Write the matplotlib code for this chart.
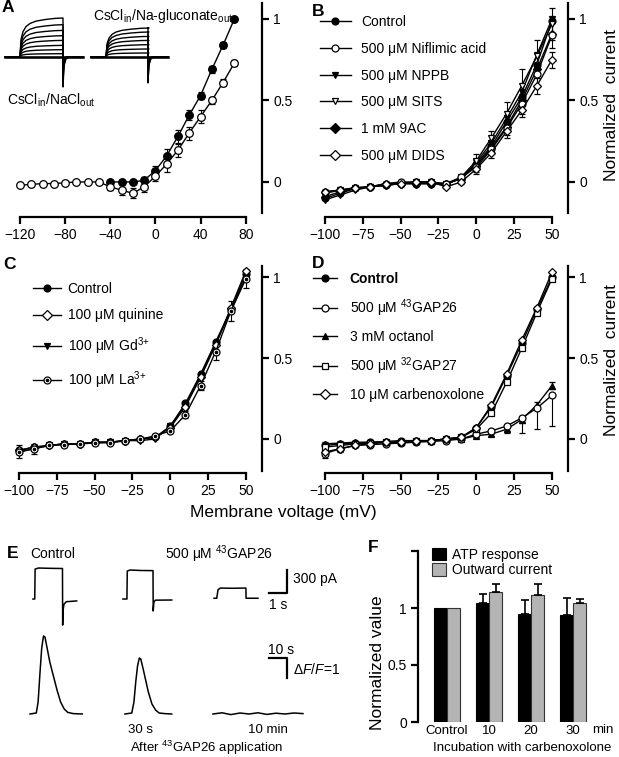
import numpy as np
import matplotlib
matplotlib.use('Agg')
import matplotlib.pyplot as plt
from matplotlib.lines import Line2D

plt.rcParams['font.family'] = ['Liberation Sans', 'DejaVu Sans']
plt.rcParams['mathtext.fontset'] = 'custom'
plt.rcParams['mathtext.rm'] = 'Liberation Sans'
plt.rcParams['mathtext.it'] = 'Liberation Sans:italic'

# ---------------- data ----------------
# panel A
vA_na = [-40, -30, -20, -10, 0, 10, 20, 30, 40, 50, 60, 70]
iA_na = [0.0, 0.0, 0.0, 0.01, 0.07, 0.16, 0.28, 0.41, 0.53, 0.69, 0.84, 1.0]
eA_na = [0.01, 0.01, 0.01, 0.02, 0.03, 0.04, 0.04, 0.03, 0.02, 0.02, 0.02, 0.01]
vA_cl = list(range(-120, 80, 10))
iA_cl = [-0.02, -0.015, -0.01, -0.01, -0.005, 0.0, 0.0, 0.0, -0.03, -0.05, -0.07, -0.03,
         0.035, 0.11, 0.195, 0.30, 0.40, 0.50, 0.61, 0.73]
eA_cl = [0.01] * 8 + [0.02, 0.03, 0.03, 0.03, 0.03, 0.05, 0.04, 0.04, 0.04, 0.02, 0.02, 0.02]

volts = list(range(-100, 60, 10))

# panel B
iB_ctrl = [-0.10, -0.07, -0.04, -0.03, -0.02, -0.01, -0.01, -0.01, -0.01, 0.02, 0.11, 0.22, 0.37, 0.52, 0.72, 0.99]
iB_nfa = [-0.06, -0.05, -0.035, -0.03, -0.01, 0.0, 0.0, 0.0, -0.01, 0.03, 0.09, 0.20, 0.33, 0.48, 0.66, 0.90]
iB_nppb = [-0.11, -0.08, -0.05, -0.03, -0.02, -0.01, -0.01, -0.01, -0.01, 0.02, 0.12, 0.24, 0.39, 0.55, 0.78, 1.0]
iB_sits = [-0.07, -0.05, -0.04, -0.03, -0.02, -0.01, 0.0, 0.0, -0.02, 0.03, 0.13, 0.27, 0.42, 0.59, 0.77, 0.97]
iB_9ac = [-0.09, -0.06, -0.04, -0.03, -0.02, -0.01, -0.01, -0.01, -0.01, 0.02, 0.10, 0.21, 0.34, 0.50, 0.69, 0.91]
iB_dids = [-0.06, -0.05, -0.035, -0.03, -0.01, -0.01, 0.0, 0.0, -0.03, 0.0, 0.08, 0.18, 0.31, 0.44, 0.59, 0.75]
eB_sits = [0.01] * 10 + [0.04, 0.04, 0.07, 0.10, 0.10, 0.10]
eB_nfa = [0.01] * 10 + [0.03, 0.03, 0.04, 0.06, 0.07, 0.08]
eB_dids = [0.01] * 10 + [0.03, 0.03, 0.04, 0.04, 0.05, 0.05]

# panel C
iC_ctrl = [-0.07, -0.05, -0.04, -0.03, -0.03, -0.02, -0.02, -0.01, 0.0, 0.01, 0.08, 0.22, 0.40, 0.60, 0.80, 1.02]
iC_quin = [-0.07, -0.05, -0.04, -0.03, -0.03, -0.02, -0.02, -0.01, 0.0, 0.01, 0.07, 0.20, 0.38, 0.58, 0.81, 1.04]
iC_gd = [-0.08, -0.06, -0.04, -0.03, -0.03, -0.02, -0.02, -0.01, -0.01, 0.0, 0.08, 0.21, 0.39, 0.59, 0.79, 1.0]
iC_la = [-0.08, -0.06, -0.04, -0.035, -0.03, -0.025, -0.023, -0.012, -0.002, 0.02, 0.05, 0.15, 0.33, 0.54, 0.79, 0.99]
eC_la = [0.04, 0.03, 0.01, 0.01, 0.01, 0.01, 0.01, 0.01, 0.01, 0.01, 0.01, 0.02, 0.03, 0.05, 0.06, 0.06]

# panel D
iD_ctrl = [-0.04, -0.03, -0.025, -0.02, -0.02, -0.015, -0.01, -0.01, 0.0, 0.01, 0.07, 0.20, 0.39, 0.59, 0.80, 1.0]
iD_gap26 = [-0.09, -0.06, -0.04, -0.035, -0.03, -0.025, -0.02, -0.015, -0.01, 0.0, 0.03, 0.05, 0.08, 0.13, 0.19, 0.27]
eD_gap26 = [0.03, 0.02, 0.01, 0.01, 0.01, 0.01, 0.01, 0.01, 0.01, 0.01, 0.01, 0.02, 0.03, 0.09, 0.13, 0.19]
iD_oct = [-0.03, -0.025, -0.02, -0.02, -0.015, -0.01, -0.01, -0.01, 0.0, 0.0, 0.02, 0.03, 0.06, 0.12, 0.21, 0.33]
eD_oct = [0.01] * 11 + [0.01, 0.02, 0.02, 0.02, 0.02]
iD_gap27 = [-0.05, -0.04, -0.03, -0.025, -0.02, -0.02, -0.015, -0.01, 0.0, 0.01, 0.06, 0.16, 0.35, 0.56, 0.78, 0.99]
iD_cbx = [-0.08, -0.06, -0.04, -0.03, -0.02, -0.02, -0.015, -0.01, 0.0, 0.01, 0.07, 0.21, 0.40, 0.61, 0.81, 1.03]

# panel F
f_groups = ['Control', '10', '20', '30']
f_atp = [1.0, 1.04, 0.95, 0.94]
f_atp_err = [0.0, 0.08, 0.12, 0.15]
f_out = [1.0, 1.14, 1.11, 1.04]
f_out_err = [0.0, 0.07, 0.10, 0.04]

# inset traces of panel A (step amplitudes, rise shape)
famA1_amp = [39, 32.3, 26.6, 21.3, 16.6, 11.6, 7.3, 3.3, 0]
famA2_amp = [29, 25, 20.6, 16.6, 12.3, 8, 4, 0]
rise_t = [0, 1, 3, 6, 10, 16, 25, 35, 43]
rise_f = [0, 0.45, 0.65, 0.78, 0.86, 0.92, 0.96, 0.99, 1.0]

# panel E current traces (s, pA)
cur_ctrl_t = [0, 0.1, 0.12, 0.3, 1.0, 1.64, 1.65, 1.67, 1.72, 1.85, 2.43]
cur_ctrl_i = [0, 0, 390, 404, 400, 398, -340, -150, -70, -35, -25]
cur_30s_t = [0, 0.22, 0.24, 0.4, 1.0, 1.67, 1.68, 1.72, 1.8, 2.71]
cur_30s_i = [0, 0, 365, 378, 372, 370, -156, -40, -15, -13]
cur_10m_t = [0, 0.15, 0.22, 0.35, 1.0, 1.77, 1.78, 2.44]
cur_10m_i = [10, 10, 120, 143, 140, 143, 10, 10]
# panel E fluorescence traces (s, dF/F)
ca_ctrl_t = [0, 3.5, 4.5, 5.5, 6.5, 7.5, 8.3, 9.5, 11, 13, 15, 17, 19, 21, 24, 29]
ca_ctrl_v = [0, 0.05, 0.6, 2.0, 3.3, 3.9, 3.85, 3.3, 2.6, 1.9, 1.2, 0.6, 0.25, 0.08, 0.02, 0]
ca_30s_t = [0, 3.8, 5, 6, 7, 8, 8.8, 10, 11.5, 13, 15, 17, 19, 22, 26]
ca_30s_v = [0, 0.05, 0.6, 1.6, 2.4, 2.8, 2.75, 2.3, 1.7, 1.1, 0.5, 0.2, 0.05, 0.02, 0]
ca_10m_t = [0, 5, 10, 15, 20, 25, 30, 35, 40, 45, 50]
ca_10m_v = [0, 0.06, -0.03, 0.05, 0.0, 0.06, -0.02, 0.04, 0.0, 0.05, 0.02]

# ---------------- figure ----------------
W, H = 619, 757
fig = plt.figure(figsize=(W / 100, H / 100), dpi=100)


def add_px(l, t, r, b):
    return fig.add_axes([l / W, 1 - b / H, (r - l) / W, (b - t) / H])


def fx(x):
    return x / W


def fy(y):
    return 1 - y / H


def iv_axes(l, t, r, b, xlim, ylim, xticks, ybounds):
    ax = add_px(l, t, r, b)
    ax.set_xlim(xlim)
    ax.set_ylim(ylim)
    ax.spines['left'].set_visible(False)
    ax.spines['top'].set_visible(False)
    ax.spines['right'].set_bounds(*ybounds)
    ax.spines['bottom'].set_bounds(xticks[0], xticks[-1])
    ax.spines['right'].set_linewidth(1.6)
    ax.spines['bottom'].set_linewidth(1.6)
    ax.yaxis.tick_right()
    ax.set_xticks(xticks)
    ax.set_yticks([0, 0.5, 1])
    ax.set_yticklabels(['0', '0.5', '1'])
    ax.tick_params(direction='out', length=5, width=1.6, labelsize=10, pad=3)
    ax.patch.set_visible(False)
    return ax


def series(ax, x, y, marker, fc, err=None, ms=5, z=3):
    ax.errorbar(x, y, yerr=err, fmt='-', color='k', lw=1, marker=marker, mfc=fc, mec='k',
                mew=0.9, ms=ms, capsize=2.2, elinewidth=0.8, capthick=0.8, clip_on=False, zorder=z)


def dotted(ax, x, y, err=None, ms=5, z=3):
    series(ax, x, y, 'o', 'white', err, ms, z)
    ax.plot(x, y, 'o', color='k', ms=1.6, clip_on=False, zorder=z + 0.5)


def handle(marker, fc):
    return Line2D([], [], color='k', lw=1, marker=marker, mfc=fc, mec='k', mew=0.9, ms=5)


# ---- A ----
axA = iv_axes(20, 3, 262, 217, (-120, 94.5), (-0.215, 1.098), [-120, -80, -40, 0, 40, 80], (-0.19, 1.1))
series(axA, vA_na, iA_na, 'o', 'k', eA_na, ms=5.5)
series(axA, vA_cl, iA_cl, 'o', 'white', eA_cl, ms=5.5, z=4)
fig.text(fx(93), fy(16), r'CsCl$_{\mathregular{in}}$/Na-gluconate$_{\mathregular{out}}$', fontsize=10, va='center')
fig.text(fx(7), fy(100), r'CsCl$_{\mathregular{in}}$/NaCl$_{\mathregular{out}}$', fontsize=10, va='center')

# A inset current families
axI = add_px(0, 12, 175, 92)
axI.set_xlim(0, 175)
axI.set_ylim(-35, 45)
axI.axis('off')
for amps, b0, on, off, b1, spike in [(famA1_amp, 5, 20, 63, 83, 30), (famA2_amp, 91, 106, 148, 168, 26)]:
    amax = max(amps)
    for a in amps:
        xs = [b0, on] + [on + rt for rt in rise_t] + [off, off, off + 1, off + 3, off + 6, b1]
        s = spike * a / amax
        ys = [0, 0] + [a * rf for rf in rise_f] + [a, -s, -0.3 * s, -0.05 * s, 0, 0]
        axI.plot(xs, ys, color='k', lw=1)
    axI.plot([b0, b1], [0, 0], color='k', lw=1.8)

# ---- B ----
axB = iv_axes(325, 3, 568, 217, (-100, 60.6), (-0.215, 1.098), [-100, -75, -50, -25, 0, 25, 50], (-0.19, 1.1))
series(axB, volts, iB_ctrl, 'o', 'k')
series(axB, volts, iB_nppb, 'v', 'k')
series(axB, volts, iB_9ac, 'D', 'k', ms=4.5)
series(axB, volts, iB_sits, 'v', 'white', eB_sits)
series(axB, volts, iB_nfa, 'o', 'white', eB_nfa)
series(axB, volts, iB_dids, 'D', 'white', eB_dids, ms=4.5)
hB = [handle('o', 'k'), handle('o', 'white'), handle('v', 'k'), handle('v', 'white'), handle('D', 'k'), handle('D', 'white')]
lB = ['Control', '500 μM Niflimic acid', '500 μM NPPB', '500 μM SITS', '1 mM 9AC', '500 μM DIDS']
axB.legend(hB, lB, loc='upper left', bbox_to_anchor=(fx(320), fy(15)), bbox_transform=fig.transFigure,
           frameon=False, fontsize=10, borderpad=0, borderaxespad=0, handlelength=2.2,
           handletextpad=0.75, labelspacing=0.92)
fig.text(fx(612), fy(105), 'Normalized  current', fontsize=12.5, rotation=90, ha='center', va='center')

# ---- C ----
axC = iv_axes(19, 262, 262, 473, (-100, 60.6), (-0.21, 1.093), [-100, -75, -50, -25, 0, 25, 50], (-0.2, 1.07))
series(axC, volts, iC_ctrl, 'o', 'k')
series(axC, volts, iC_gd, 'v', 'k')
series(axC, volts, iC_quin, 'D', 'white', ms=4.5)
dotted(axC, volts, iC_la, eC_la)
hC = [handle('o', 'k'), handle('D', 'white'), handle('v', 'k'),
      (handle('o', 'white'), Line2D([], [], ls='none', marker='o', color='k', ms=1.6))]
lC = ['Control', '100 μM quinine', r'100 μM Gd$^{\mathregular{3{+}}}$', r'100 μM La$^{\mathregular{3{+}}}$']
axC.legend(hC, lC, loc='upper left', bbox_to_anchor=(fx(33), fy(282)), bbox_transform=fig.transFigure,
           frameon=False, fontsize=10, borderpad=0, borderaxespad=0, handlelength=2.0,
           handletextpad=0.5, labelspacing=0.9)

# ---- D ----
axD = iv_axes(325, 262, 568, 473, (-100, 60.6), (-0.21, 1.093), [-100, -75, -50, -25, 0, 25, 50], (-0.2, 1.07))
series(axD, volts, iD_oct, '^', 'k', eD_oct)
series(axD, volts, iD_gap26, 'o', 'white', [eD_gap26, [0] * len(eD_gap26)])
series(axD, volts, iD_ctrl, 'o', 'k')
series(axD, volts, iD_gap27, 's', 'white', ms=4.5)
series(axD, volts, iD_cbx, 'D', 'white', ms=4.5)
hD = [handle('o', 'k'), handle('o', 'white'), handle('^', 'k'), handle('s', 'white'), handle('D', 'white')]
lD = ['Control', r'500 μM $^{\mathregular{43}}$GAP26', '3 mM octanol', r'500 μM $^{\mathregular{32}}$GAP27',
      '10 μM carbenoxolone']
legD = axD.legend(hD, lD, loc='upper left', bbox_to_anchor=(fx(313), fy(272)), bbox_transform=fig.transFigure,
                  frameon=False, fontsize=10, borderpad=0, borderaxespad=0, handlelength=1.75,
                  handletextpad=0.9, labelspacing=0.8)
legD.get_texts()[0].set_fontweight('bold')
fig.text(fx(612), fy(360), 'Normalized  current', fontsize=12.5, rotation=90, ha='center', va='center')
fig.text(fx(283), fy(512), 'Membrane voltage (mV)', fontsize=12.5, ha='center', va='center')

# ---- E ----
axE1 = add_px(20, 560, 310, 630)
axE1.set_xlim(0, 290 / 18)
axE1.set_ylim(-404, 508.7)
axE1.axis('off')
for t0, ts, ys in [(0.72, cur_ctrl_t, cur_ctrl_i), (5.72, cur_30s_t, cur_30s_i), (10.78, cur_10m_t, cur_10m_i)]:
    axE1.plot([t0 + t for t in ts], ys, color='k', lw=1.1)
axE1.plot([13.83, 14.83, 14.83], [78, 78, 378], color='k', lw=1.6)

axE2 = add_px(20, 620, 310, 725)
axE2.set_xlim(0, 290 / 1.8)
axE2.set_ylim(-0.55, 4.7)
axE2.axis('off')
for t0, ts, ys in [(5.56, ca_ctrl_t, ca_ctrl_v), (58.3, ca_30s_t, ca_30s_v), (107.2, ca_10m_t, ca_10m_v)]:
    axE2.plot([t0 + t for t in ts], ys, color='k', lw=1.1)
axE2.plot([138.3, 148.3, 148.3], [2.8, 2.8, 1.8], color='k', lw=1.6)

fig.text(fx(30), fy(554), 'Control', fontsize=10, va='center')
fig.text(fx(165), fy(554), r'500 μM $^{\mathregular{43}}$GAP26', fontsize=10, va='center')
fig.text(fx(293), fy(579), '300 pA', fontsize=10, va='center')
fig.text(fx(269), fy(605), '1 s', fontsize=10, va='center')
fig.text(fx(268), fy(650), '10 s', fontsize=10, va='center')
fig.text(fx(293), fy(669), r'Δ$\mathit{F}$/$\mathit{F}$=1', fontsize=10, va='center')
fig.text(fx(141), fy(730), '30 s', fontsize=9.5, ha='center', va='center')
fig.text(fx(268), fy(730), '10 min', fontsize=9.5, ha='center', va='center')
fig.text(fx(207), fy(748), r'After $^{\mathregular{43}}$GAP26 application', fontsize=9.5, ha='center', va='center')

# ---- F ----
axF = add_px(418, 551, 605, 722)
x = np.arange(len(f_groups))
bw = 0.31
axF.bar(x - bw / 2, f_atp, bw, color='k', edgecolor='k', lw=0.8, label='ATP response')
axF.bar(x + bw / 2, f_out, bw, color='#b4b4b4', edgecolor='#333333', lw=0.8, label='Outward current')
axF.errorbar(x[1:] - bw / 2, f_atp[1:], yerr=[[0] * 3, f_atp_err[1:]], fmt='none', ecolor='k',
             elinewidth=1.2, capsize=3, capthick=1.2)
axF.errorbar(x[1:] + bw / 2, f_out[1:], yerr=[[0] * 3, f_out_err[1:]], fmt='none', ecolor='k',
             elinewidth=1.2, capsize=3, capthick=1.2)
axF.set_xlim(-0.69, 3.76)
axF.set_ylim(0, 1.5)
for s in ['top', 'right', 'bottom']:
    axF.spines[s].set_visible(False)
axF.spines['left'].set_linewidth(1.6)
axF.set_yticks([0, 0.5, 1, 1.5])
axF.set_yticklabels(['0', '0.5', '1', ''])
axF.set_xticks(x)
axF.set_xticklabels(f_groups)
axF.tick_params(axis='y', direction='out', length=5, width=1.6, labelsize=10, pad=3)
axF.tick_params(axis='x', length=0, labelsize=9.5, pad=2)
axF.text(3.72, -0.07, 'min', fontsize=9.5, ha='center', va='center')
axF.legend(loc='upper left', bbox_to_anchor=(fx(432), fy(548)), bbox_transform=fig.transFigure,
           frameon=False, fontsize=10, borderpad=0, borderaxespad=0, handlelength=1.0,
           handleheight=1.0, handletextpad=0.45, labelspacing=0.1)
fig.text(fx(377), fy(663), 'Normalized value', fontsize=12.5, rotation=90, ha='center', va='center')
fig.text(fx(522), fy(748), 'Incubation with carbenoxolone', fontsize=9.5, ha='center', va='center')

# panel letters
for lab, px, py in [('A', 2, 8), ('B', 312, 11), ('C', 3, 265), ('D', 312, 264), ('E', 7, 554), ('F', 368, 548)]:
    fig.text(fx(px), fy(py), lab, fontsize=12.5, fontweight='bold', va='center')

fig.savefig('out.png', dpi=100)
